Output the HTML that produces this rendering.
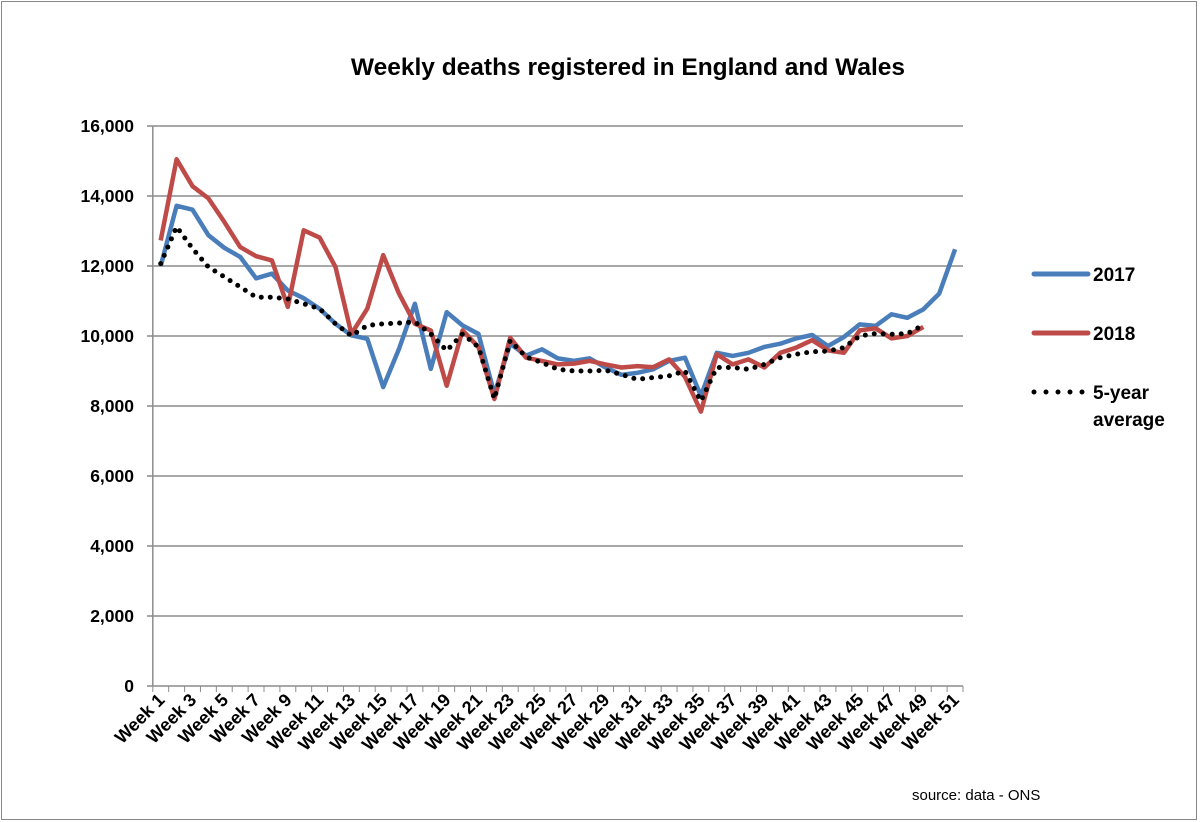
<!DOCTYPE html>
<html><head><meta charset="utf-8"><style>
html,body{margin:0;padding:0;background:#fff}
svg{display:block;font-family:"Liberation Sans",sans-serif}
</style></head><body>
<svg id="chart" width="1200" height="822" viewBox="0 0 1200 822">
<rect x="1.5" y="1.5" width="1195" height="818" fill="#fff" stroke="#888" stroke-width="1"/>
<text x="628" y="75" text-anchor="middle" font-size="24.5" font-weight="bold">Weekly deaths registered in England and Wales</text>
<g id="grid"></g><g id="series"></g><g id="xlabels"></g>
<g>
<line x1="1034" y1="274" x2="1088" y2="274" stroke="#4a7ebb" stroke-width="5" stroke-linecap="round"/>
<text x="1093" y="281" font-size="19" font-weight="bold">2017</text>
<line x1="1034" y1="333" x2="1088" y2="333" stroke="#be4b48" stroke-width="5" stroke-linecap="round"/>
<text x="1093" y="340" font-size="19" font-weight="bold">2018</text>
<line x1="1034" y1="392" x2="1088" y2="392" stroke="#000" stroke-width="5" stroke-linecap="round" stroke-dasharray="0 12"/>
<text x="1093" y="399" font-size="19" font-weight="bold">5-year</text>
<text x="1093" y="426" font-size="19" font-weight="bold">average</text>
</g>
<text x="912" y="800" font-size="15">source: data - ONS</text>
</svg>
<script>
const weeks = Array.from({length:51},(_,i)=>'Week '+(i+1));
const yTicks = [0,2000,4000,6000,8000,10000,12000,14000,16000];
const s2017 = [12000,13720,13610,12880,12520,12260,11650,11780,11300,11080,10780,10350,10020,9920,8540,9630,10920,9060,10680,10300,10060,8340,9780,9440,9620,9360,9290,9360,9100,8890,8950,9050,9290,9380,8290,9520,9430,9520,9690,9780,9930,10030,9710,9970,10330,10290,10620,10520,10760,11210,12480];
const s2018 = [12730,15050,14280,13930,13260,12540,12280,12160,10830,13020,12810,11970,10060,10780,12310,11210,10350,10160,8580,10160,9680,8200,9950,9380,9290,9190,9210,9290,9190,9100,9140,9110,9330,8830,7840,9480,9190,9330,9100,9520,9670,9880,9590,9520,10160,10220,9930,10000,10260];
const sAvg = [12070,13120,12500,11970,11690,11400,11110,11110,11060,10920,10780,10350,10010,10300,10350,10370,10400,10060,9580,10060,9680,8200,9870,9400,9240,9050,9000,9000,9020,8900,8760,8810,8860,9000,8140,9100,9100,9050,9190,9380,9480,9550,9570,9670,10000,10070,10050,10070,10310];
const NS='http://www.w3.org/2000/svg';
const X0=152.8, X1=963, Y0=686, Y1=126, YMAX=16000;
const step=(X1-X0)/weeks.length;
const xs=i=>X0+step*(i+0.5);
const ys=v=>Y0-(v/YMAX)*(Y0-Y1);
function mk(tag,attrs,parent){const e=document.createElementNS(NS,tag);for(const k in attrs)e.setAttribute(k,attrs[k]);parent.appendChild(e);return e;}
const grid=document.getElementById('grid');
yTicks.forEach(v=>{
  const y=ys(v);
  if(v>0){const l=mk('line',{x1:147,y1:y,x2:X1,y2:y,stroke:'#8c8c8c','stroke-width':1.5},grid);
  
  }
  const t=mk('text',{x:134,y:y+6,'text-anchor':'end','font-size':17.5,'font-weight':'bold'},grid);
  t.textContent=v.toLocaleString('en-US');
  
  
});
const ax=mk('line',{x1:X0,y1:Y1,x2:X0,y2:Y0,stroke:'#8c8c8c','stroke-width':1.5},grid);


const xa=mk('line',{x1:147,y1:Y0,x2:X1,y2:Y0,stroke:'#8c8c8c','stroke-width':1.5},grid);


for(let i=0;i<=weeks.length;i++){
  const x=X0+step*i;
  const tk=mk('line',{x1:x,y1:Y0,x2:x,y2:Y0+6,stroke:'#8c8c8c','stroke-width':1},grid);
  
  
}
const xl=document.getElementById('xlabels');
weeks.forEach((w,i)=>{
  if(i%2) return;
  const x=xs(i)+5, y=Y0+15;
  const t=mk('text',{x:x,y:y,'text-anchor':'end','font-size':18,'font-weight':'bold',transform:`rotate(-45 ${x} ${y})`},xl);
  t.textContent=w;
  
  
});
const sg=document.getElementById('series');
function line(data,name,attrs){
  const d=data.map((v,i)=>(i?'L':'M')+xs(i).toFixed(1)+' '+ys(v).toFixed(1)).join(' ');
  const p=mk('path',Object.assign({d:d,fill:'none','stroke-linejoin':'round'},attrs),sg);
  
  
}
line(s2017,'series-2017-line',{stroke:'#4a7ebb','stroke-width':4.5});
line(s2018,'series-2018-line',{stroke:'#be4b48','stroke-width':4.5});
line(sAvg,'series-5-year-average-line',{stroke:'#000','stroke-width':5,'stroke-linecap':'round','stroke-dasharray':'0 9'});
</script>
</body></html>
